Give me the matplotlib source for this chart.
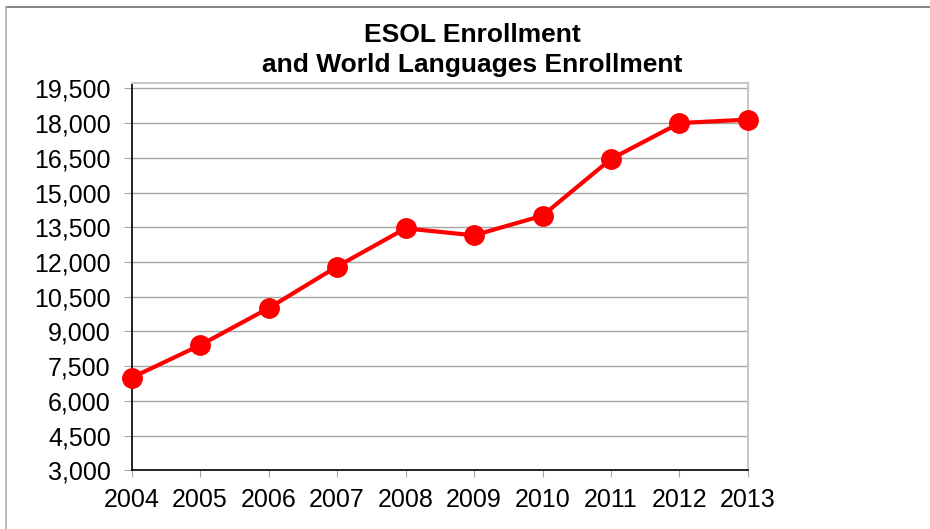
import matplotlib
matplotlib.use("Agg")
import matplotlib.pyplot as plt
from matplotlib.lines import Line2D
from matplotlib.ticker import FuncFormatter

years = ["2004", "2005", "2006", "2007", "2008", "2009", "2010", "2011", "2012", "2013"]
enrollment = [7000, 8400, 10000, 11800, 13450, 13150, 14000, 16450, 18000, 18150]
y_ticks = [3000, 4500, 6000, 7500, 9000, 10500, 12000, 13500, 15000, 16500, 18000, 19500]
title = "ESOL Enrollment\nand World Languages Enrollment"

plt.rcParams['font.family'] = ['Liberation Sans', 'DejaVu Sans']

fig = plt.figure(figsize=(9.3, 5.29), dpi=100)
ax = fig.add_axes([0.1414, 0.111, 0.6629, 0.7312])

x = list(range(len(years)))
ax.plot(x, enrollment, color='#ff0000', linewidth=3, marker='o', markersize=14,
        markerfacecolor='#ff0000', markeredgecolor='#ff0000', clip_on=False, zorder=5)

ax.set_xlim(0, len(years) - 1)
ax.set_ylim(3000, 19710)
ax.set_yticks(y_ticks)
ax.yaxis.set_major_formatter(FuncFormatter(lambda v, p: f"{int(v):,}"))
ax.set_xticks(x)
ax.set_xticklabels(years)

ax.grid(axis='y', color='#a6a6a6', linewidth=1.0)
ax.set_axisbelow(True)

for s in ['top', 'right']:
    ax.spines[s].set_color('#c8c8c8')
    ax.spines[s].set_linewidth(1.5)
for s in ['left', 'bottom']:
    ax.spines[s].set_color('black')
    ax.spines[s].set_linewidth(1.2)

ax.tick_params(axis='y', length=6, color='#a6a6a6', labelsize=18, pad=9)
ax.tick_params(axis='x', length=5, color='#a6a6a6', labelsize=18, pad=8)

fig.text(472 / 930, 1 - 50 / 529, title, ha='center', va='center',
         fontsize=19, fontweight='bold', linespacing=1.3)

# figure border lines (top and left)
fig.add_artist(Line2D([6 / 930, 1], [1 - 7 / 529, 1 - 7 / 529], color='#707070', linewidth=1.2,
                      transform=fig.transFigure))
fig.add_artist(Line2D([6 / 930, 6 / 930], [0, 1 - 7 / 529], color='#b0b0b0', linewidth=1.2,
                      transform=fig.transFigure))

fig.savefig("out.png", dpi=100)
